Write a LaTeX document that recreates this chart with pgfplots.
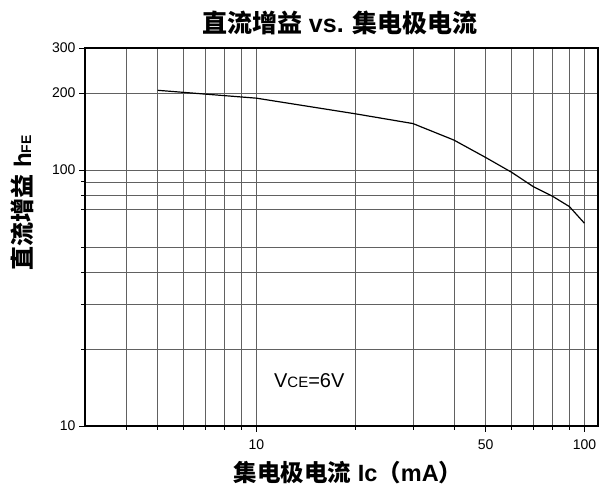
\documentclass[border=0pt]{standalone}
\usepackage{pgfplots}
\pgfplotsset{compat=1.18}
\usepackage{fontspec}
\setmainfont{Liberation Sans}
\newfontfamily\cjk{Noto Sans CJK SC}

\begin{document}
\begin{tikzpicture}
\path[use as bounding box] (-85pt,-62pt) rectangle (514pt,426pt);
\begin{axis}[
  at={(0,0)}, anchor=south west,
  scale only axis, width=513pt, height=378pt,
  xmode=log, ymode=log,
  xmin=3, xmax=110, ymin=10, ymax=300,
  axis line style={line width=1.2pt},
  grid=both,
  major grid style={black!62, line width=0.6pt},
  minor grid style={black!62, line width=0.6pt},
  xtick={10,50,100}, xticklabels={10,50,100},
  minor xtick={4,5,6,7,8,9,20,30,40,60,70,80,90},
  ytick={10,100,200,300}, yticklabels={10,100,200,300},
  minor ytick={20,30,40,50,70,80,90},
  tick align=outside, xtick pos=left, ytick pos=left,
  major tick length=6pt, minor tick length=4pt,
  every tick/.style={black, line width=0.7pt},
  tick label style={font=\fontsize{14}{14}\selectfont},
  xticklabel style={yshift=-4pt},
  clip=false,
]
\addplot[black, line width=1.2pt] coordinates {
  (5,205) (10,191) (20,166) (30,152) (40,131) (50,112)
  (60,98) (70,86) (80,79) (90,72) (100,62)};
\node[anchor=base west, inner sep=0pt] at (axis cs:11.3,14.2)
  {\fontsize{20}{20}\selectfont V{\fontsize{15}{15}\selectfont CE}=6V};
\end{axis}
\node at (255pt,403pt) {\bfseries\fontsize{25}{25}\selectfont{\cjk\bfseries 直流增益} vs. {\cjk\bfseries 集电极电流}};
\node[inner sep=0pt] at (263pt,-47pt) {\bfseries\fontsize{23.5}{23.5}\selectfont{\cjk\bfseries 集电极电流} Ic{\cjk\bfseries （}mA{\cjk\bfseries ）}};
\node[rotate=90] at (-63pt,223pt) {\bfseries\fontsize{24}{24}\selectfont{\cjk\bfseries 直流增益} h{\fontsize{14}{14}\selectfont FE}};
\end{tikzpicture}
\end{document}
